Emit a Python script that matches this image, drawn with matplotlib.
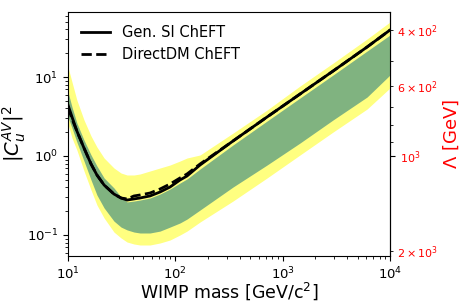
import numpy as np
import matplotlib as mpl
import matplotlib.pyplot as plt

# WIMP masses [GeV/c^2]
mass = [10, 10.9, 12.1, 14.1, 16.4, 18.6, 21.7, 26.8, 31.2, 35.5, 41.2, 46.9,
        58.1, 72.0, 89.3, 110.6, 128.5, 170, 345, 716, 1452, 2950, 6120, 10000]

# |C_u^AV|^2 limits
gen_si = [4.42, 3.12, 2.07, 1.26, 0.792, 0.575, 0.429, 0.330, 0.294, 0.277, 0.286, 0.294,
          0.312, 0.350, 0.405, 0.497, 0.558, 0.769, 1.55, 3.12, 6.09, 11.9, 24.0, 39.3]
directdm = [4.17, 2.94, 2.07, 1.26, 0.792, 0.575, 0.429, 0.330, 0.294, 0.286, 0.312, 0.321,
            0.340, 0.382, 0.442, 0.527, 0.592, 0.792, 1.55, 3.12, 6.09, 11.9, 24.0, 39.3]

# sensitivity bands
band2_hi = [13.39, 8.64, 5.11, 2.86, 1.79, 1.30, 0.943, 0.705, 0.609, 0.575, 0.575, 0.592,
            0.646, 0.705, 0.769, 0.864, 0.943, 1.03, 1.95, 3.82, 7.69, 15.0, 30.3, 49.7]
band1_hi = [6.46, 4.17, 2.62, 1.59, 1.03, 0.747, 0.527, 0.394, 0.303, 0.262, 0.269, 0.277,
            0.294, 0.330, 0.382, 0.455, 0.512, 0.684, 1.38, 2.77, 5.42, 10.6, 21.3, 34.0]
band1_lo = [3.12, 2.26, 1.50, 0.864, 0.497, 0.321, 0.220, 0.150, 0.126, 0.116, 0.109, 0.106,
            0.106, 0.112, 0.126, 0.142, 0.159, 0.207, 0.405, 0.769, 1.46, 2.86, 5.58, 10.6]
band2_lo = [2.54, 1.69, 1.19, 0.646, 0.371, 0.240, 0.164, 0.109, 0.0917, 0.0815, 0.0769, 0.0747,
            0.0747, 0.0792, 0.0864, 0.100, 0.112, 0.146, 0.269, 0.527, 1.03, 2.01, 3.93, 7.26]

fig = plt.figure(figsize=(4.67, 3.07), dpi=100)
ax = fig.add_axes([0.1456, 0.1661, 0.6895, 0.7948])

ax.fill_between(mass, band2_lo, band2_hi, color="#ffff80", lw=0)
ax.fill_between(mass, band1_lo, band1_hi, color="#80b380", lw=0)
ax.plot(mass, gen_si, "k-", lw=2, label="Gen. SI ChEFT")
ax.plot(mass, directdm, "k--", lw=2, label="DirectDM ChEFT")

ax.set_xscale("log")
ax.set_yscale("log")
ax.set_xlim(10, 1e4)
ax.set_ylim(0.0542, 66.5)
ax.set_xlabel("WIMP mass [GeV/c$^2$]", fontsize=12.5)
ax.set_ylabel("$|C_u^{AV}|^2$", fontsize=14)
ax.xaxis.set_label_coords(0.5, -0.1)
ax.yaxis.set_label_coords(-0.125, 0.5)
ax.tick_params(labelsize=9.5)
ax.legend(loc="upper left", frameon=False, fontsize=10.5)


def to_lam(c):
    return 1000.0 * np.power(c, -0.25)


def from_lam(lam):
    return np.power(1000.0 / lam, 4)


sec = ax.secondary_yaxis("right", functions=(to_lam, from_lam))
sec.set_ylabel(r"$\Lambda$ [GeV]", color="red", fontsize=13, labelpad=2)
sec.tick_params(axis="y", which="both", labelcolor="red", labelsize=8)

fig.savefig("out.png", dpi=100)
